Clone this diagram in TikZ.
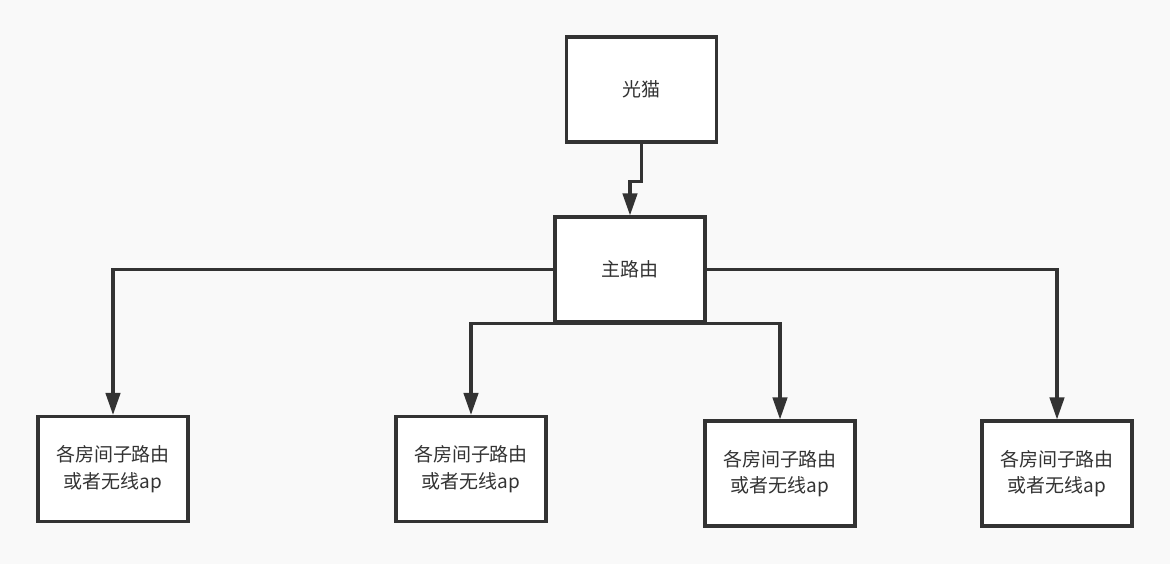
\documentclass[tikz,border=0pt]{standalone}
\usepackage{fontspec}
\setmainfont{Noto Sans CJK SC}
\usetikzlibrary{arrows.meta}
\definecolor{linegray}{HTML}{333333}
\definecolor{bggray}{HTML}{F9F9F9}

\begin{document}
\begin{tikzpicture}[x=0.025cm, y=-0.025cm,
    box/.style={draw=linegray, line width=2.3pt, fill=white, minimum width=3.75cm,
        minimum height=2.62cm, align=center, text=linegray, font=\fontsize{13.5}{19}\selectfont},
    link/.style={draw=linegray, line width=2.2pt, -{Triangle[length=0.55cm, width=0.36cm]}}]
    % Background
    \fill[bggray] (0,0) rectangle (1170,564);
    
    % Boxes
    \node[box] (modem) at (641.5, 89.5) {光猫};
    \node[box] (main) at (630, 269.5) {主路由};
    \node[box] (room1) at (113, 469) {各房间子路由\\或者无线ap};
    \node[box] (room2) at (471, 469) {各房间子路由\\或者无线ap};
    \node[box] (room3) at (780, 473.5) {各房间子路由\\或者无线ap};
    \node[box] (room4) at (1057, 473.5) {各房间子路由\\或者无线ap};
    
    % Links
    \draw[link] (modem.south) -- ++(0,38) -| (main.north);
    \draw[link] (main.west) -| (room1.north);
    \draw[link] (main.south) -| (room2.north);
    \draw[link] (main.south) -| (room3.north);
    \draw[link] (main.east) -| (room4.north);
\end{tikzpicture}
\end{document}
